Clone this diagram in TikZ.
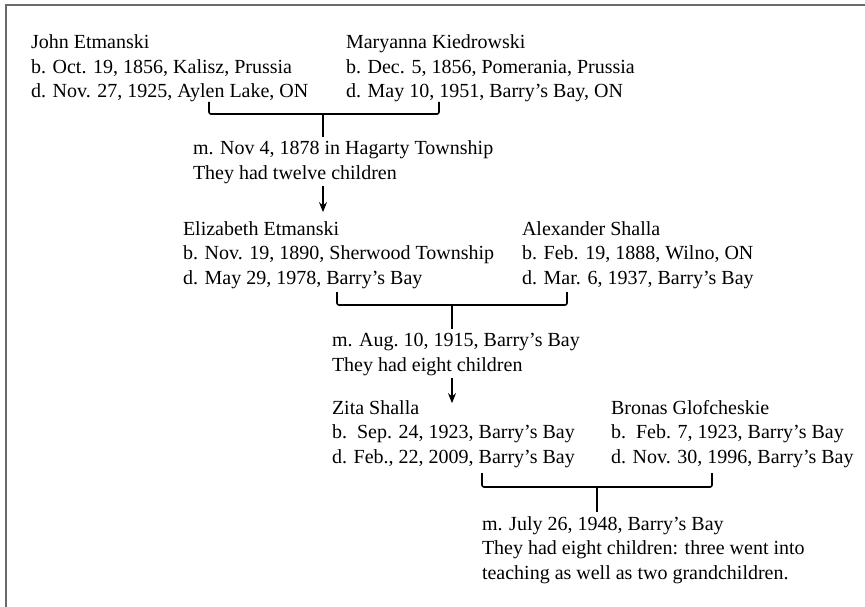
\documentclass[tikz,border=0pt]{standalone}
\usepackage{fontspec}
\setmainfont{Liberation Serif}
\usetikzlibrary{arrows.meta, calc, positioning}

\begin{document}
\begin{tikzpicture}[x=1pt, y=-1pt, outer sep=0pt]

\tikzstyle{person}=[anchor=base west, align=left, inner sep=0pt, font=\fontsize{20}{24.5}\selectfont]
\tikzstyle{bracket}=[line width=1.6pt, rounded corners=2pt]
\tikzstyle{arrow}=[line width=1.4pt, -{Stealth[length=10pt,width=8pt]}]
\tikzstyle{frame}=[draw=black!58, line width=2pt]

\useasboundingbox (0,0) rectangle (865,607);
\draw[frame] (5.5,608) -- (5.5,5) -- (866,5);

% first generation (placed at the baseline of the last line)
\node[person] (john) at (31,98) {John Etmanski\\b. Oct. 19, 1856, Kalisz, Prussia\\d. Nov. 27, 1925, Aylen Lake, ON};
\node[person] (maryanna) at (346,98) {Maryanna Kiedrowski\\b. Dec. 5, 1856, Pomerania, Prussia\\d. May 10, 1951, Barry’s Bay, ON};
\node[person] (wed1) at (193,179) {m. Nov 4, 1878 in Hagarty Township\\They had twelve children};

% second generation
\node[person] (elizabeth) at (183,284) {Elizabeth Etmanski\\b. Nov. 19, 1890, Sherwood Township\\d. May 29, 1978, Barry’s Bay};
\node[person] (alexander) at (522,284) {Alexander Shalla\\b. Feb. 19, 1888, Wilno, ON\\d. Mar. 6, 1937, Barry’s Bay};
\node[person] (wed2) at (332,371) {m. Aug.\ 10, 1915, Barry’s Bay\\They had eight children};

% third generation
\node[person] (zita) at (332,463) {Zita Shalla\\b.\ \ Sep. 24, 1923, Barry’s Bay\\d. Feb., 22, 2009, Barry’s Bay};
\node[person] (bronas) at (611,463) {Bronas Glofcheskie\\b.\ \ Feb. 7, 1923, Barry’s Bay\\d. Nov. 30, 1996, Barry’s Bay};
\node[person] (wed3) at (482,579) {m. July 26, 1948, Barry’s Bay\\They had eight children: three went into\\teaching as well as two grandchildren.};

% brackets
\coordinate (b1l) at (209,102);
\coordinate (b1r) at (439,102);
\coordinate (b1j) at (323,114);
\coordinate (b2l) at (337,292);
\coordinate (b2r) at (567,292);
\coordinate (b2j) at (452,305);
\coordinate (b3l) at (482,473);
\coordinate (b3r) at (712,473);
\coordinate (b3j) at (597,487);

\draw[bracket] (b1l) |- (b1j) -| (b1r);
\draw[bracket] (b2l) |- (b2j) -| (b2r);
\draw[bracket] (b3l) |- (b3j) -| (b3r);
\draw[line width=1.6pt] (b1j) -- ($(wed1.north -| b1j)+(0,-4)$);
\draw[line width=1.6pt] (b2j) -- ($(wed2.north -| b2j)+(0,-4)$);
\draw[line width=1.6pt] (b3j) -- ($(wed3.north -| b3j)+(0,-4)$);

% children
\draw[arrow, shorten <=2.5pt, shorten >=9pt] (wed1.south -| b1j) -- (elizabeth.north -| b1j);
\draw[arrow, shorten <=2.5pt, shorten >=-3pt] (wed2.south -| b2j) -- (zita.north -| b2j);
\end{tikzpicture}
\end{document}
